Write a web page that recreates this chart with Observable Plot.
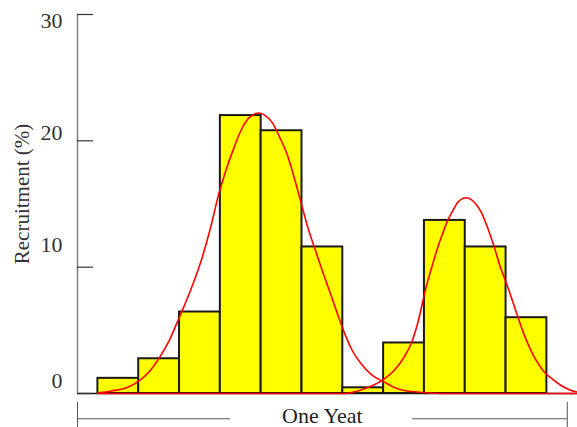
<!DOCTYPE html>
<html><head><meta charset="utf-8">
<script src="https://cdn.jsdelivr.net/npm/d3@7"></script>
<script src="https://cdn.jsdelivr.net/npm/@observablehq/plot@0.6"></script>
<style>html,body{margin:0;padding:0;background:#fff}</style>
</head><body><div id="chart"></div>
<script>
// Bar heights (recruitment %) for 11 consecutive periods
const recruitment = [1.2, 2.75, 6.45, 22.0, 20.8, 11.6, 0.45, 4.0, 13.7, 11.6, 6.0];
const yTicks = [0, 10, 20, 30];

// First fitted curve, x in period units
const curve1X = [0, 0.33, 0.73, 1.01, 1.25, 1.5, 1.75, 1.99, 2.25, 2.52, 2.75, 2.97, 3.15, 3.34, 3.5, 3.67, 3.82, 3.95, 4.1, 4.28, 4.45, 4.65, 4.8, 4.97, 5.12, 5.3, 5.5, 5.71, 5.87, 6.04, 6.2, 6.45, 6.7, 7.02, 7.25, 7.5, 8.0, 8.5, 11.76];
const curve1Y = [0.05, 0.2, 0.5, 1.0, 1.7, 2.8, 4.2, 6.0, 8.0, 10.4, 13.0, 15.9, 17.8, 19.5, 20.8, 21.7, 22.1, 22.2, 22.0, 21.4, 20.3, 18.8, 17.2, 15.2, 13.4, 11.6, 9.7, 7.8, 6.3, 4.8, 3.6, 2.35, 1.5, 0.9, 0.5, 0.24, 0.08, 0, 0];

// Second fitted curve
const curve2X = [0, 6.0, 6.12, 6.53, 7.02, 7.25, 7.5, 7.68, 7.83, 8.04, 8.18, 8.33, 8.45, 8.57, 8.7, 8.82, 9.02, 9.15, 9.26, 9.4, 9.55, 9.71, 9.85, 10.0, 10.15, 10.29, 10.45, 10.61, 10.78, 10.94, 11.15, 11.35, 11.55, 11.76];
const curve2Y = [0, 0, 0.02, 0.37, 1.16, 1.8, 2.87, 4.0, 5.5, 8.4, 10.0, 11.6, 12.7, 13.7, 14.5, 15.15, 15.5, 15.35, 15.0, 14.3, 13.1, 11.6, 10.1, 8.8, 7.4, 6.04, 4.6, 3.4, 2.4, 1.69, 1.1, 0.63, 0.3, 0.1];

const periodLabel = "One Yeat";
const periodStart = -0.5, periodEnd = 11.5;

const bars = recruitment.map((v, i) => ({x1: i, x2: i + 1, v}));
const c1 = curve1X.map((x, i) => ({x, y: curve1Y[i]}));
const c2 = curve2X.map((x, i) => ({x, y: curve2Y[i]}));

const font = "'Liberation Serif', 'Times New Roman', serif";
const labelShift = [-13, -22, -8, 6];

const plot = Plot.plot({
  width: 577, height: 427,
  marginLeft: 77, marginRight: 0, marginTop: 14, marginBottom: 34,
  style: {fontFamily: font, background: "#fff", color: "#222"},
  x: {domain: [-0.5, 11.75], axis: null},
  y: {domain: [0, 30], axis: null},
  marks: [
    Plot.ruleY([0], {stroke: "#111", strokeWidth: 1.5}),
    Plot.rectY(bars, {x1: "x1", x2: "x2", y: "v", fill: "#ffff00", stroke: "#1a1a1a", strokeWidth: 2}),
    Plot.line(c1, {x: "x", y: "y", stroke: "#ff0000", strokeWidth: 1.6, curve: "monotone-x"}),
    Plot.line(c2, {x: "x", y: "y", stroke: "#ff0000", strokeWidth: 1.6, curve: "monotone-x"}),
    Plot.frame({anchor: "left", stroke: "#808080", strokeWidth: 1.5}),
    Plot.tickY(yTicks, {y: d => d, stroke: "#333", strokeWidth: 1.2, insetRight: 484}),
    ...yTicks.map((t, i) => Plot.text([t], {y: d => d, text: d => String(d), frameAnchor: "left", dx: -15, dy: labelShift[i], textAnchor: "end", fontSize: 22, fill: "#333"})),
    Plot.text(["Recruitment (%)"], {text: d => d, frameAnchor: "left", dx: -55, dy: -10, rotate: -90, textAnchor: "middle", fontSize: 21, fill: "#333"}),
    // one-year bracket below the bars
    Plot.ruleY([{a: periodStart, b: 3.25}, {a: 7.71, b: periodEnd}], {x1: "a", x2: "b", y: -2, stroke: "#555", strokeWidth: 1}),
    Plot.ruleX([periodStart, periodEnd], {x: d => d, y1: -0.7, y2: -2.9, stroke: "#555", strokeWidth: 1}),
    Plot.text([periodLabel], {x: (periodStart + periodEnd) / 2, y: -2, dy: -3, text: d => d, fontSize: 22, fill: "#222"})
  ]
});
document.getElementById("chart").appendChild(plot);
</script>
</body></html>
